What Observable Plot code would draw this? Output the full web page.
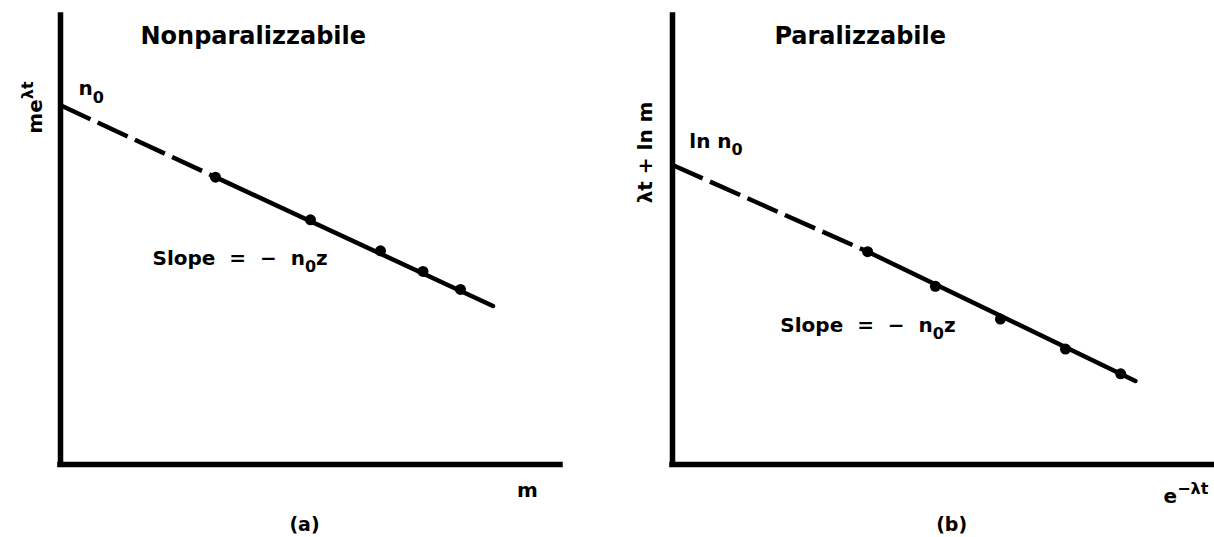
<!DOCTYPE html>
<html><head><meta charset="utf-8">
<script src="https://cdn.jsdelivr.net/npm/d3@7"></script>
<script src="https://cdn.jsdelivr.net/npm/@observablehq/plot@0.6"></script>
<style>
body{margin:0;background:#fff;}
#wrap{display:flex;width:1214px;height:537px;}
</style></head><body><div id="wrap"></div>
<script>
// ---- Data (arbitrary units) ----
// Panel (a): Nonparalizzabile — m vs m·e^{λt}
const aIntercept = 8.0;                 // n0, value at m = 0
const aX = [3.1, 5.0, 6.4, 7.25, 8.0];  // measured m
const aY = [6.4, 5.45, 4.76, 4.3, 3.9]; // m e^{λt}
const aEndX = 8.65, aEndY = 3.53;       // end of fitted line

// Panel (b): Paralizzabile — e^{-λt} vs λt + ln m
const bIntercept = 6.67;                 // ln n0
const bX = [3.6, 4.85, 6.05, 7.25, 8.27];
const bY = [4.74, 3.97, 3.24, 2.57, 2.02];
const bEndX = 8.54, bEndY = 1.86;

// Texts
const titles = ["Nonparalizzabile", "Paralizzabile"];
const yLabels = ["me^{λt}", "λt + ln m"];
const xLabels = ["m", "e^{−λt}"];
const interceptLabels = ["n_{0}", "ln n_{0}"];
const slopeLabel = "Slope\u00A0\u00A0=\u00A0\u00A0−\u00A0\u00A0n_{0}z";
const panelTags = ["(a)", "(b)"];

const FONT = "DejaVu Sans";

function richText(svg) {
  d3.select(svg).selectAll("text").each(function () {
    const s = this.textContent;
    if (!/[\^_]\{/.test(s)) return;
    const parts = s.split(/(\^\{[^}]*\}|_\{[^}]*\})/).filter(p => p.length);
    this.textContent = "";
    let shift = 0;
    for (const p of parts) {
      const t = document.createElementNS("http://www.w3.org/2000/svg", "tspan");
      if (p.startsWith("^{")) {
        t.textContent = p.slice(2, -1);
        t.setAttribute("font-size", "80%");
        t.setAttribute("dy", "-0.55em");
        shift = 0.44;
      } else if (p.startsWith("_{")) {
        t.textContent = p.slice(2, -1);
        t.setAttribute("font-size", "80%");
        t.setAttribute("dy", "0.45em");
        shift = -0.36;
      } else {
        t.textContent = p;
        if (shift) t.setAttribute("dy", shift + "em");
        shift = 0;
      }
      this.appendChild(t);
    }
  });
  return svg;
}

function panel(cfg) {
  const pts = cfg.xs.map((x, i) => ({x, y: cfg.ys[i]}));
  const dashed = [{x: 0, y: cfg.intercept}, pts[0]];
  const solid = [pts[0], {x: cfg.endX, y: cfg.endY}];
  const txt = {fontFamily: FONT, fontWeight: "bold", fill: "black"};
  return richText(Plot.plot({
    width: 607, height: 537,
    marginLeft: cfg.marginLeft, marginRight: cfg.marginRight, marginTop: 15, marginBottom: 73,
    x: {domain: [0, 10], axis: null},
    y: {domain: [0, 10], axis: null},
    style: {fontFamily: FONT, background: "white", overflow: "visible"},
    marks: [
      Plot.ruleX([0], {y1: 0, y2: 10, stroke: "black", strokeWidth: 5.5, strokeLinecap: "square"}),
      Plot.ruleY([0], {x1: 0, x2: 10, stroke: "black", strokeWidth: 5.5, strokeLinecap: "square"}),
      Plot.line(dashed, {x: "x", y: "y", stroke: "black", strokeWidth: 4.5, strokeDasharray: "33,8", strokeLinecap: "butt"}),
      Plot.line(solid, {x: "x", y: "y", stroke: "black", strokeWidth: 4.5}),
      Plot.dot(pts, {x: "x", y: "y", r: 5.5, fill: "black"}),
      Plot.text([cfg.title], {...txt, x: cfg.titlePos[0], y: cfg.titlePos[1], fontSize: 24, textAnchor: "start", lineAnchor: "bottom"}),
      Plot.text([cfg.ylabel], {...txt, x: cfg.ylabelPos[0], y: cfg.ylabelPos[1], fontSize: 20, rotate: -90, textAnchor: "middle", lineAnchor: "bottom"}),
      Plot.text([cfg.xlabel], {...txt, x: cfg.xlabelPos[0], y: cfg.xlabelPos[1], fontSize: 20, textAnchor: cfg.xlabelAnchor, lineAnchor: "bottom"}),
      Plot.text([cfg.icept], {...txt, x: cfg.iceptPos[0], y: cfg.iceptPos[1], fontSize: 20, textAnchor: "start", lineAnchor: "bottom"}),
      Plot.text([slopeLabel], {...txt, x: cfg.slopePos[0], y: cfg.slopePos[1], fontSize: 20, textAnchor: "start", lineAnchor: "bottom"}),
      Plot.text([cfg.tag], {...txt, x: cfg.tagPos[0], y: cfg.tagPos[1], fontSize: 19, textAnchor: "middle", lineAnchor: "bottom"})
    ]
  }));
}

const wrap = document.getElementById("wrap");
wrap.appendChild(panel({
  marginLeft: 60, marginRight: 47,
  intercept: aIntercept, xs: aX, ys: aY, endX: aEndX, endY: aEndY,
  title: titles[0], titlePos: [1.6, 9.36],
  ylabel: yLabels[0], ylabelPos: [-0.38, 7.95],
  xlabel: xLabels[0], xlabelPos: [9.34, -0.73], xlabelAnchor: "middle",
  icept: interceptLabels[0], iceptPos: [0.36, 8.22],
  slopePos: [1.84, 4.45],
  tag: panelTags[0], tagPos: [4.88, -1.49]
}));
wrap.appendChild(panel({
  marginLeft: 65, marginRight: 0,
  intercept: bIntercept, xs: bX, ys: bY, endX: bEndX, endY: bEndY,
  title: titles[1], titlePos: [1.88, 9.36],
  ylabel: yLabels[1], ylabelPos: [-0.37, 6.95],
  xlabel: xLabels[1], xlabelPos: [9.06, -0.85], xlabelAnchor: "start",
  icept: interceptLabels[1], iceptPos: [0.31, 7.06],
  slopePos: [1.99, 2.96],
  tag: panelTags[1], tagPos: [5.15, -1.49]
}));
</script></body></html>
